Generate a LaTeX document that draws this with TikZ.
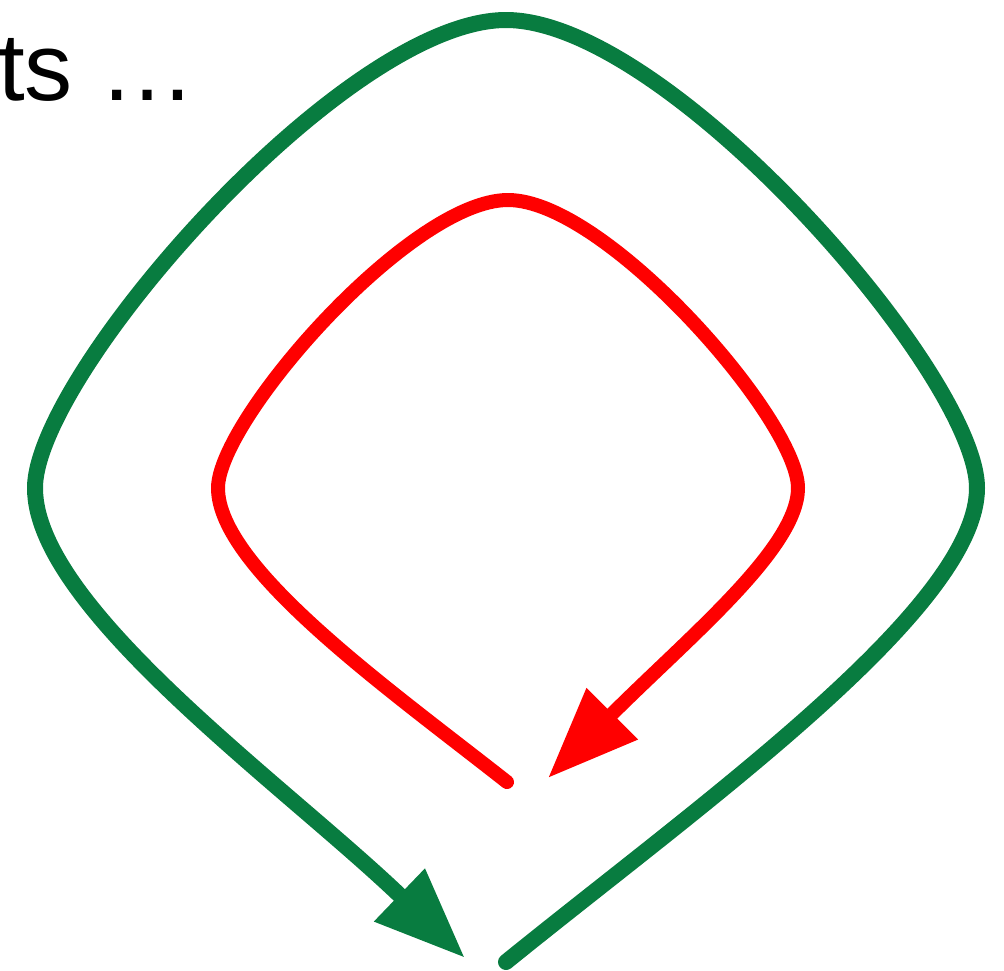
\documentclass[tikz,border=0pt]{standalone}
\usepackage{fontspec}
\setmainfont{Liberation Sans}
\usetikzlibrary{arrows.meta}
\definecolor{loopgreen}{RGB}{8,124,64}
\definecolor{loopred}{RGB}{255,0,0}
\begin{document}
\begin{tikzpicture}[x=1pt,y=-1pt,
  loopline/.style={line width=#1, line cap=round, line join=round,
    -{Triangle[length=91pt,width=69pt]}},
  greenloop/.style={draw=loopgreen, loopline=16pt},
  redloop/.style={draw=loopred, loopline=14pt},
  labeltext/.style={font=\fontsize{96}{100}\selectfont, inner sep=0pt, anchor=base west}]
\useasboundingbox (0,0) rectangle (1004,970);
\node[labeltext] (lbl) at (-2,100) {ts …};
% green loop
\coordinate (gstart) at (506,962);
\coordinate (gright) at (977,488);
\coordinate (gtop) at (506,20);
\coordinate (gleft) at (35,488);
\coordinate (gtip) at (465,958);
\draw[greenloop] (gstart)
  .. controls (701,804) and (977,608) .. (gright)
  .. controls (977,375) and (668,20) .. (gtop)
  .. controls (344,20) and (35,375) .. (gleft)
  .. controls (35,608) and (285,785) .. (gtip);
% red loop
\coordinate (rstart) at (507,782);
\coordinate (rleft) at (218,488);
\coordinate (rtop) at (508,200);
\coordinate (rright) at (798,488);
\coordinate (rtip) at (548,778);
\draw[redloop] (rstart)
  .. controls (389,689) and (218,568) .. (rleft)
  .. controls (218,420) and (410,200) .. (rtop)
  .. controls (606,200) and (798,420) .. (rright)
  .. controls (798,548) and (689,637) .. (rtip);
\end{tikzpicture}
\end{document}
